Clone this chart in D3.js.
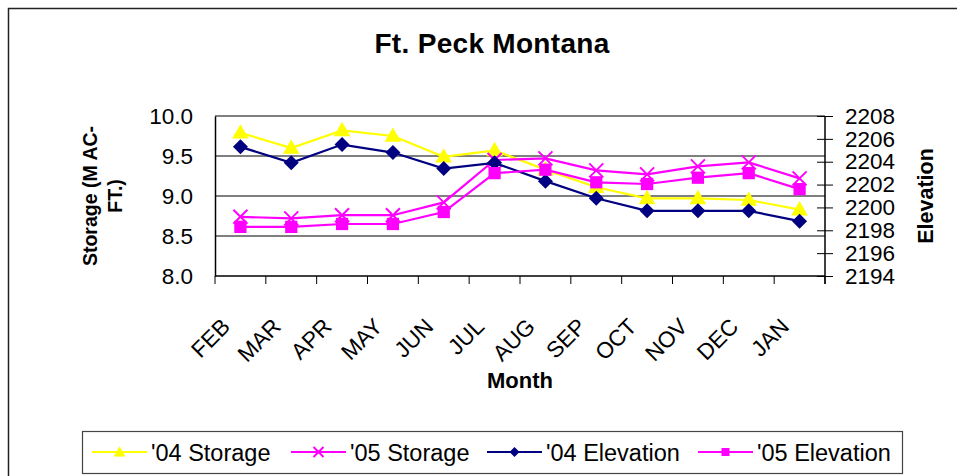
<!DOCTYPE html>
<html>
<head>
<meta charset="utf-8">
<script src="https://cdn.jsdelivr.net/npm/d3@7"></script>
<style>
  body { margin: 0; background: #fff; }
  svg { display: block; font-family: "Liberation Sans", Arial, sans-serif; }
</style>
</head>
<body>
<svg></svg>
<script>
// data
const months = ["FEB", "MAR", "APR", "MAY", "JUN", "JUL", "AUG", "SEP", "OCT", "NOV", "DEC", "JAN"];
const storage04 = [9.79, 9.60, 9.82, 9.75, 9.49, 9.57, 9.33, 9.11, 8.97, 8.97, 8.95, 8.83];
const storage05 = [8.74, 8.72, 8.76, 8.76, 8.92, 9.45, 9.47, 9.32, 9.27, 9.37, 9.42, 9.22];
const elevation04 = [2205.3, 2203.9, 2205.5, 2204.8, 2203.4, 2203.9, 2202.3, 2200.8, 2199.7, 2199.7, 2199.7, 2198.8];
const elevation05 = [2198.3, 2198.3, 2198.55, 2198.55, 2199.6, 2203.0, 2203.3, 2202.2, 2202.05, 2202.6, 2203.0, 2201.6];
const storageTicks = [8.0, 8.5, 9.0, 9.5, 10.0];
const elevationTicks = [2194, 2196, 2198, 2200, 2202, 2204, 2206, 2208];

const width = 957, height = 476;
const marginLeft = 215, marginRight = 132, marginTop = 116, marginBottom = 200;

const svg = d3.select("svg")
  .attr("width", width)
  .attr("height", height)
  .attr("viewBox", [0, 0, width, height]);

// outer chart border (right and bottom edges run off the picture)
svg.append("rect")
  .attr("x", 8.5).attr("y", 8.5)
  .attr("width", 1000).attr("height", 1000)
  .attr("fill", "none")
  .attr("stroke", "#222")
  .attr("stroke-width", 1.5);

const x = d3.scaleBand()
  .domain(months)
  .range([marginLeft, width - marginRight]);

const yL = d3.scaleLinear()
  .domain([8, 10])
  .range([height - marginBottom, marginTop]);

const yR = d3.scaleLinear()
  .domain([2194, 2208])
  .range([height - marginBottom, marginTop]);

// title
svg.append("text")
  .attr("x", 492).attr("y", 53)
  .attr("text-anchor", "middle")
  .attr("font-weight", "bold")
  .attr("font-size", 28)
  .attr("letter-spacing", 0.3)
  .text("Ft. Peck Montana");

// grid lines
svg.append("g")
  .selectAll("line")
  .data(storageTicks.slice(1))
  .join("line")
  .attr("x1", marginLeft).attr("x2", width - marginRight)
  .attr("y1", d => yL(d)).attr("y2", d => yL(d))
  .attr("stroke", "#000")
  .attr("stroke-width", 1);

// left axis
svg.append("g")
  .attr("transform", `translate(${marginLeft},0)`)
  .call(d3.axisLeft(yL).tickValues(storageTicks).tickFormat(d3.format(".1f")).tickSize(0).tickPadding(22))
  .call(g => g.select(".domain").attr("stroke", "#000").attr("stroke-width", 1.5))
  .call(g => g.selectAll(".tick text").attr("font-size", 22.5).attr("fill", "#000").attr("font-family", null));

// right axis with ticks crossing the line
svg.append("g")
  .attr("transform", `translate(${width - marginRight},0)`)
  .call(d3.axisRight(yR).tickValues(elevationTicks).tickFormat(d3.format("d")).tickSize(8).tickSizeOuter(0).tickPadding(12))
  .call(g => g.select(".domain").attr("stroke", "#000").attr("stroke-width", 1.5)
    .attr("d", `M0,${yR(2208)}V${yR(2194) + 8}`))
  .call(g => g.selectAll(".tick line").attr("x1", -8).attr("stroke", "#000"))
  .call(g => g.selectAll(".tick text").attr("font-size", 22.5).attr("fill", "#000").attr("font-family", null));

// bottom axis: ticks on category boundaries
const xAxis = svg.append("g");
xAxis.append("line")
  .attr("x1", marginLeft).attr("x2", width - marginRight)
  .attr("y1", yL(8)).attr("y2", yL(8))
  .attr("stroke", "#000").attr("stroke-width", 1.5);
xAxis.selectAll(".bound")
  .data(months.concat(["end"]))
  .join("line")
  .attr("class", "bound")
  .attr("x1", (d, i) => marginLeft + i * x.step())
  .attr("x2", (d, i) => marginLeft + i * x.step())
  .attr("y1", yL(8)).attr("y2", yL(8) + 8)
  .attr("stroke", "#000");
xAxis.selectAll("text")
  .data(months)
  .join("text")
  .attr("transform", d => `translate(${x(d) + x.bandwidth() / 2 - 9},${yL(8) + 52}) rotate(-45)`)
  .attr("text-anchor", "end")
  .attr("font-size", 22.5)
  .text(d => d);

// axis titles
svg.append("text")
  .attr("x", 520).attr("y", 388)
  .attr("text-anchor", "middle")
  .attr("font-weight", "bold")
  .attr("font-size", 22)
  .text("Month");

const leftTitle = svg.append("text")
  .attr("transform", "translate(97,196) rotate(-90)")
  .attr("text-anchor", "middle")
  .attr("font-weight", "bold")
  .attr("font-size", 19.5);
leftTitle.append("tspan").attr("x", 0).attr("y", 0).text("Storage (M AC-");
leftTitle.append("tspan").attr("x", 0).attr("y", 24.5).text("FT.)");

svg.append("text")
  .attr("transform", "translate(933,196) rotate(-90)")
  .attr("text-anchor", "middle")
  .attr("font-weight", "bold")
  .attr("font-size", 21.5)
  .text("Elevation");

// marker shapes
const tri = d3.symbol(d3.symbolTriangle);
const sq = d3.symbol(d3.symbolSquare);
function crossPath(r) {
  return `M${-r},${-r}L${r},${r}M${-r},${r}L${r},${-r}`;
}
function diamondPath(r) {
  return `M0,${-r}L${r},0L0,${r}L${-r},0Z`;
}

const series = [
  { name: "'04 Storage", values: storage04, y: yL, color: "#FFFF00", marker: "tri" },
  { name: "'05 Storage", values: storage05, y: yL, color: "#FF00FF", marker: "x" },
  { name: "'04 Elevation", values: elevation04, y: yR, color: "#000080", marker: "dia" },
  { name: "'05 Elevation", values: elevation05, y: yR, color: "#FF00FF", marker: "sq" }
];

function drawMarker(g, type, color, big) {
  if (type === "tri") {
    g.append("path").attr("d", tri.size(big ? 120 : 60)()).attr("fill", color).attr("transform", "translate(0,1)");
  } else if (type === "dia") {
    g.append("path").attr("d", diamondPath(big ? 7.5 : 5)).attr("fill", color);
  } else if (type === "sq") {
    g.append("path").attr("d", sq.size(big ? 150 : 64)()).attr("fill", color);
  } else {
    g.append("path").attr("d", crossPath(big ? 7 : 5)).attr("stroke", color).attr("stroke-width", 2).attr("fill", "none");
  }
}

const cx = d => x(d) + x.bandwidth() / 2;

series.forEach(s => {
  const line = d3.line()
    .x((d, i) => cx(months[i]))
    .y(d => s.y(d));
  const g = svg.append("g");
  g.append("path")
    .datum(s.values)
    .attr("d", line)
    .attr("fill", "none")
    .attr("stroke", s.color)
    .attr("stroke-width", 2.2);
  g.selectAll("g")
    .data(s.values)
    .join("g")
    .attr("transform", (d, i) => `translate(${cx(months[i])},${s.y(d)})`)
    .each(function() { drawMarker(d3.select(this), s.marker, s.color, true); });
});

// legend
const legend = svg.append("g");
legend.append("rect")
  .attr("x", 82.5).attr("y", 431.5)
  .attr("width", 820).attr("height", 42)
  .attr("fill", "#fff")
  .attr("stroke", "#444")
  .attr("stroke-width", 1.2);

const legendX = [92, 291, 487, 698];
series.forEach((s, i) => {
  const g = legend.append("g").attr("transform", `translate(${legendX[i]},452)`);
  g.append("line").attr("x1", 0).attr("x2", 55).attr("stroke", s.color).attr("stroke-width", 2);
  const m = g.append("g").attr("transform", "translate(27.5,0)");
  drawMarker(m, s.marker, s.color, false);
  g.append("text")
    .attr("x", 59).attr("y", 8.5)
    .attr("font-size", 23.5)
    .text(s.name);
});
</script>
</body>
</html>
